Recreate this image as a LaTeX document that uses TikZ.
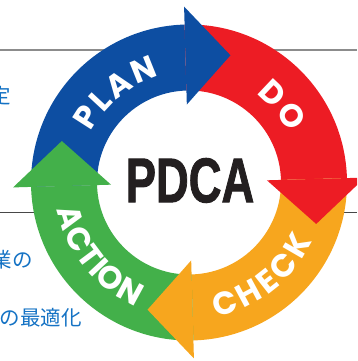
\documentclass[tikz,border=0pt]{standalone}
\usepackage{fontspec}
\usepackage{tikz}
\usetikzlibrary{decorations.text}
\setsansfont{Poppins}
\newfontfamily\jpfont{Noto Sans CJK JP}
\newfontfamily\titlefont{Liberation Sans Bold}[FakeBold=1.6]
\definecolor{PlanBlue}{RGB}{13,78,162}
\definecolor{DoRed}{RGB}{237,28,36}
\definecolor{CheckOrange}{RGB}{247,166,30}
\definecolor{ActGreen}{RGB}{67,176,74}
\definecolor{NoteBlue}{RGB}{20,114,196}
\definecolor{TitleBlack}{RGB}{35,31,32}
\newcommand{\bandfont}{\sffamily\bfseries\fontsize{32}{32}\selectfont}

\begin{document}
\begin{tikzpicture}[x=1pt, y=1pt,
 note/.style={anchor=east, inner sep=0pt, text=NoteBlue, font=\jpfont\fontsize{20.5}{20.5}\selectfont},
 upper rule/.style={draw=black!45, line width=1.5pt},
 lower rule/.style={draw=black!72, line width=0.9pt},
 bandlabel/.style={decorate, decoration={text effects along path, text={#1},
   text effects/.cd, fit text to path, characters={text along path, text=white, font=\bandfont, inner sep=0pt}}}
]
\useasboundingbox (0,0) rectangle (357,361);
\clip (0,0) rectangle (357,361);

% rules behind the cycle
\coordinate (ul) at (0,311);
\coordinate (ur) at (357,311);
\coordinate (ll) at (0,148.5);
\coordinate (lr) at (357,148.5);
\draw[upper rule] (ul) -- (ur);
\draw[lower rule] (ll) -- (lr);

% notes on the left
\node[note] (note1) at (11,265) {定};
\node[note] (note2) at (33,101) {業の};
\node[note] (note3) at (82,43.5) {の最適化};

\begin{scope}[shift={(189,178.5)}, rotate=1.6]
 \fill[white] (0,0) circle[radius=92];
 % bands first, so every head lies on top of the next band
 \foreach \col [count=\k from 0] in {PlanBlue,DoRed,CheckOrange,ActGreen}
  \fill[\col, rotate=-90*\k] (180:158) arc[start angle=180, end angle=90, radius=158]
   -- (90:92) arc[start angle=90, end angle=180, radius=92] -- cycle;
 \foreach \col [count=\k from 0] in {PlanBlue,DoRed,CheckOrange,ActGreen}
  \fill[\col, rotate=-90*\k] (0,176) -- (45,126) -- (0,78) -- cycle;

 % labels along the ring
 \path[bandlabel=PLAN] (151:110) arc[start angle=151, end angle=104, radius=110];
 \path[bandlabel=DO] (51:111) arc[start angle=51, end angle=25, radius=111];
 \path[bandlabel=CHECK] (-80:137) arc[start angle=-80, end angle=-27, radius=137];
 \path[bandlabel=ACTION] (190:135) arc[start angle=190, end angle=245, radius=135];
\end{scope}

\node[text=TitleBlack, font=\titlefont\fontsize{63}{63}\selectfont, xscale=0.72, inner sep=0pt] (title) at (190,180.5) {PDCA};
\end{tikzpicture}
\end{document}
